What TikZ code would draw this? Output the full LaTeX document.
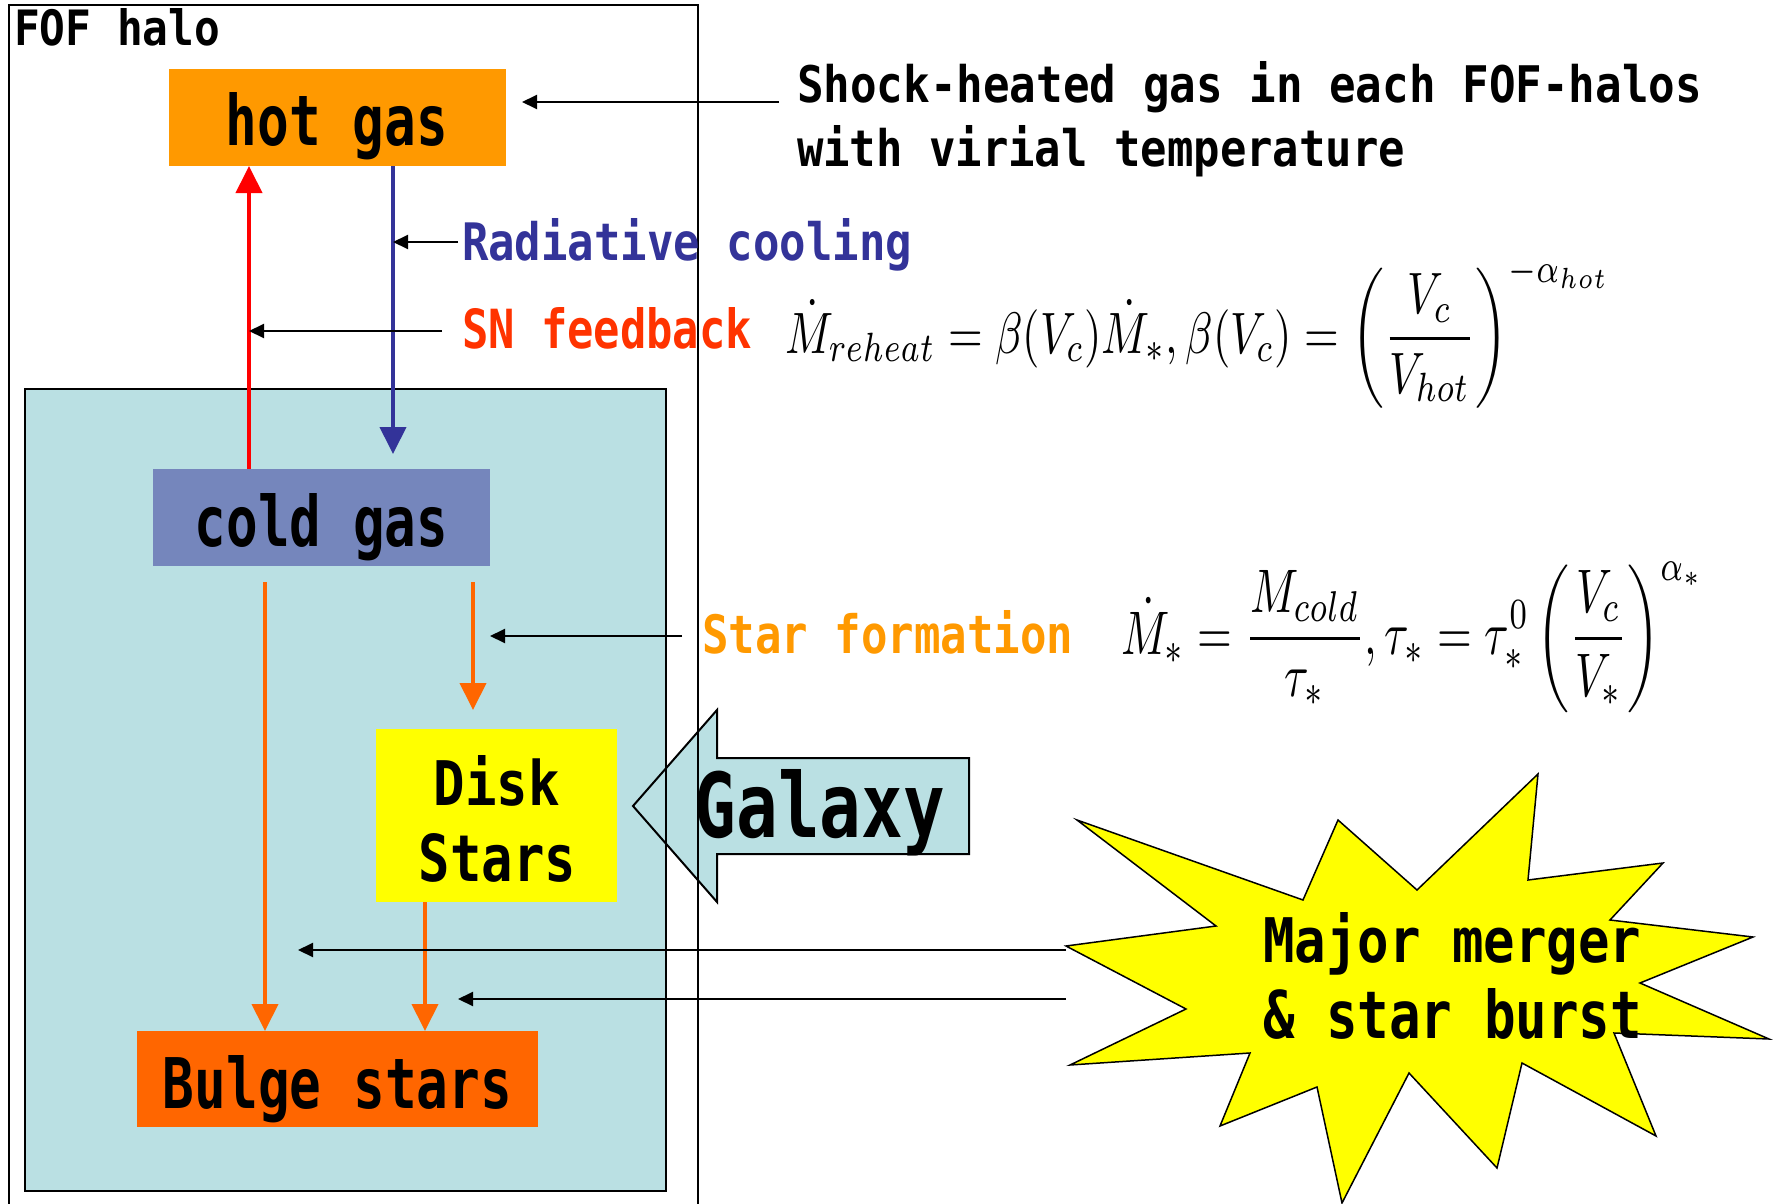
\documentclass[tikz,border=0pt]{standalone}
\usepackage{fontspec}
\newfontfamily\pop{DejaVu Sans Mono}
\usetikzlibrary{arrows.meta}
\definecolor{hotc}{RGB}{255,153,0}
\definecolor{coldc}{RGB}{117,134,188}
\definecolor{galc}{RGB}{186,224,227}
\definecolor{diskc}{RGB}{255,255,0}
\definecolor{bulgec}{RGB}{255,102,0}
\definecolor{coolc}{RGB}{51,51,153}
\definecolor{snc}{RGB}{255,51,0}
\definecolor{redc}{RGB}{255,0,0}
\begin{document}
\begin{tikzpicture}[x=1pt,y=-1pt,
  txt/.style={inner sep=0pt,outer sep=0pt,font=\pop\bfseries},
  boxn/.style={draw=none,inner sep=0pt,outer sep=0pt},
  thinarr/.style={draw=black,line width=2pt,-{Triangle[length=15pt,width=14pt]}},
  fatarr/.style={line width=4pt,-{Triangle[length=27pt,width=26pt]}}]
\useasboundingbox (0,0) rectangle (1775,1204);
\clip (0,0) rectangle (1775,1204);
% galaxy region
\node[boxn,fill=galc,minimum width=641pt,minimum height=802pt] (galbox) at (345.5,790) {};
% galaxy arrow
\draw[fill=galc,line width=2pt,line join=miter] (633,806) -- (717,710) -- (717,758) -- (969,758) -- (969,854) -- (717,854) -- (717,902) -- cycle;
\node[txt,anchor=base] (galt) at (820,837) {\resizebox{250pt}{68pt}{Galaxy}};
\draw[line width=2pt] (galbox.north west) rectangle (galbox.south east);
% FOF halo box
\node[boxn,draw=black,line width=2pt,minimum width=689pt,minimum height=1220pt] (fof) at (353.5,615) {};
\node[txt,anchor=base west] (foft) at (14,46) {\resizebox{206pt}{37pt}{FOF halo}};
% boxes
\node[boxn,fill=hotc,minimum width=337pt,minimum height=97pt] (hot) at (337.5,117.5) {};
\node[txt,anchor=base] (hott) at (337,146) {\resizebox{222pt}{53pt}{hot gas}};
\node[boxn,fill=coldc,minimum width=337pt,minimum height=97pt] (cold) at (321.5,517.5) {};
\node[txt,anchor=base] (coldt) at (321.5,546) {\resizebox{253pt}{53pt}{cold gas}};
\node[boxn,fill=diskc,minimum width=241pt,minimum height=173pt] (disk) at (496.5,815.5) {};
\node[txt,anchor=base] (diskt) at (497,805) {\resizebox{126pt}{50pt}{Disk}};
\node[txt,anchor=base] (starst) at (497.5,881) {\resizebox{157pt}{48pt}{Stars}};
\node[boxn,fill=bulgec,minimum width=401pt,minimum height=96pt] (bulge) at (337.5,1079) {};
\node[txt,anchor=base] (bulget) at (337.5,1108) {\resizebox{349pt}{53pt}{Bulge stars}};
% flow arrows
\coordinate (xr) at (249,0);
\coordinate (xb) at (393,0);
\coordinate (xo1) at (265,0);
\coordinate (xo2) at (473,0);
\coordinate (xo3) at (425,0);
\draw[fatarr,draw=redc,fill=redc] (cold.north -| xr) -- (hot.south -| xr);
\draw[fatarr,draw=coolc,fill=coolc,shorten >=15pt] (hot.south -| xb) -- (cold.north -| xb);
\draw[fatarr,draw=bulgec,fill=bulgec,shorten <=16pt] (cold.south -| xo1) -- (bulge.north -| xo1);
\draw[fatarr,draw=bulgec,fill=bulgec,shorten <=16pt,shorten >=19pt] (cold.south -| xo2) -- (disk.north -| xo2);
\draw[fatarr,draw=bulgec,fill=bulgec] (disk.south -| xo3) -- (bulge.north -| xo3);
% labels
\node[txt,anchor=base west,text=coolc] (radt) at (462,260) {\resizebox{450pt}{42pt}{Radiative cooling}};
\node[txt,anchor=base west,text=snc] (snt) at (462,348) {\resizebox{290pt}{41pt}{SN feedback}};
\node[txt,anchor=base west] (shk1) at (797,103) {\resizebox{905pt}{41pt}{Shock-heated gas in each FOF-halos}};
\node[txt,anchor=base west] (shk2) at (797,166) {\resizebox{608pt}{41pt}{with virial temperature}};
\node[txt,anchor=base west,text=hotc] (sft) at (702,653) {\resizebox{371pt}{43pt}{Star formation}};
% annotation arrows
\coordinate (ashk) at (779,102);
\coordinate (arad) at (458,242);
\coordinate (asn) at (442,331);
\coordinate (asf) at (682,636);
\coordinate (am1) at (1066,950);
\coordinate (am2) at (1066,999);
\coordinate (tm1) at (298,950);
\coordinate (tm2) at (458,999);
\draw[thinarr,shorten >=16pt] (ashk) -- (hot.east |- ashk);
\draw[thinarr] (arad) -- (xb |- arad);
\draw[thinarr] (asn) -- (xr |- asn);
\draw[thinarr,shorten >=17pt] (asf) -- (xo2 |- asf);
\draw[thinarr] (am1) -- (tm1);
\draw[thinarr] (am2) -- (tm2);
% equations
\node[inner sep=0pt,anchor=west] (eq1) at (785,333) {\resizebox*{825pt}{151pt}{$\displaystyle \dot{M}_{reheat} = \beta(V_c)\dot{M}_*, \beta(V_c) = \left(\frac{V_c}{V_{hot}}\right)^{-\alpha_{hot}}$}};
\node[inner sep=0pt,anchor=west] (eq2) at (1121,637) {\resizebox*{583pt}{151pt}{$\displaystyle \dot{M}_* = \frac{M_{cold}}{\tau_*}, \tau_* = \tau_*^0\left(\frac{V_c}{V_*}\right)^{\alpha_*}$}};
% starburst
\draw[fill=diskc,line width=1.5pt,line join=miter] (1077,820) -- (1303,900) -- (1338,820) -- (1417,890) -- (1538,774) -- (1528,880) -- (1663,863) -- (1610,920) -- (1753,937) -- (1640,983) -- (1769,1039) -- (1614,1033) -- (1656,1136) -- (1522,1063) -- (1497,1168) -- (1409,1073) -- (1342,1203) -- (1317,1087) -- (1220,1126) -- (1250,1053) -- (1070,1065) -- (1186,1009) -- (1066,946) -- (1216,926) -- cycle;
\node[txt,anchor=base west] (mm1) at (1263,962) {\resizebox{378pt}{50pt}{Major merger}};
\node[txt,anchor=base west] (mm2) at (1263,1038) {\resizebox{379pt}{50pt}{\& star burst}};
\end{tikzpicture}
\end{document}
